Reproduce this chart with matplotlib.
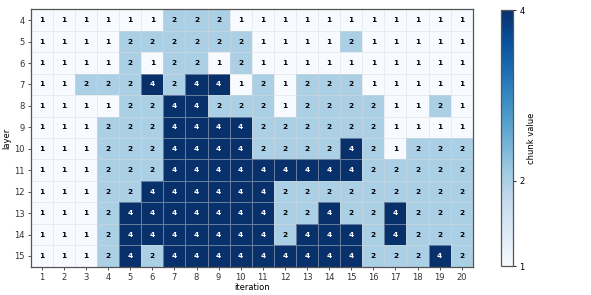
import numpy as np
import matplotlib.pyplot as plt
from matplotlib.colors import Normalize

layers = list(range(4, 16))
iterations = list(range(1, 21))

chunks = [
    [1, 1, 1, 1, 1, 1, 2, 2, 2, 1, 1, 1, 1, 1, 1, 1, 1, 1, 1, 1],
    [1, 1, 1, 1, 2, 2, 2, 2, 2, 2, 1, 1, 1, 1, 2, 1, 1, 1, 1, 1],
    [1, 1, 1, 1, 2, 1, 2, 2, 1, 2, 1, 1, 1, 1, 1, 1, 1, 1, 1, 1],
    [1, 1, 2, 2, 2, 4, 2, 4, 4, 1, 2, 1, 2, 2, 2, 1, 1, 1, 1, 1],
    [1, 1, 1, 1, 2, 2, 4, 4, 2, 2, 2, 1, 2, 2, 2, 2, 1, 1, 2, 1],
    [1, 1, 1, 2, 2, 2, 4, 4, 4, 4, 2, 2, 2, 2, 2, 2, 1, 1, 1, 1],
    [1, 1, 1, 2, 2, 2, 4, 4, 4, 4, 2, 2, 2, 2, 4, 2, 1, 2, 2, 2],
    [1, 1, 1, 2, 2, 2, 4, 4, 4, 4, 4, 4, 4, 4, 4, 2, 2, 2, 2, 2],
    [1, 1, 1, 2, 2, 4, 4, 4, 4, 4, 4, 2, 2, 2, 2, 2, 2, 2, 2, 2],
    [1, 1, 1, 2, 4, 4, 4, 4, 4, 4, 4, 2, 2, 4, 2, 2, 4, 2, 2, 2],
    [1, 1, 1, 2, 4, 4, 4, 4, 4, 4, 4, 2, 4, 4, 4, 2, 4, 2, 2, 2],
    [1, 1, 1, 2, 4, 2, 4, 4, 4, 4, 4, 4, 4, 4, 4, 2, 2, 2, 4, 2],
]

data = np.array(chunks)
norm = Normalize(vmin=1, vmax=4)

fig = plt.figure(figsize=(5.91, 2.95), dpi=100)
ax = fig.add_axes([0.052, 0.096, 0.748, 0.872])
cax = fig.add_axes([0.847, 0.098, 0.021, 0.868])

mesh = ax.pcolormesh(data, cmap='Blues', norm=norm,
                     edgecolors=(0.85, 0.85, 0.85, 0.45), linewidth=0.6)
ax.set_xlim(0, len(iterations))
ax.set_ylim(len(layers), 0)

# annotate every cell
for i in range(len(layers)):
    for j in range(len(iterations)):
        v = data[i, j]
        color = 'white' if v >= 3 else 'black'
        ax.text(j + 0.5, i + 0.5, str(v), ha='center', va='center',
                fontsize=5.3, fontweight='bold', color=color)

ax.set_xticks(np.arange(len(iterations)) + 0.5)
ax.set_xticklabels(iterations, fontsize=6)
ax.set_yticks(np.arange(len(layers)) + 0.5)
ax.set_yticklabels(layers, fontsize=6)
ax.tick_params(length=2.5, width=0.6, pad=2, colors='#333333')
ax.set_xlabel('iteration', fontsize=6, labelpad=1)
ax.set_ylabel('layer', fontsize=6, labelpad=2)
for s in ax.spines.values():
    s.set_color('#555555')
    s.set_linewidth(0.9)

cb = fig.colorbar(mesh, cax=cax, ticks=[1, 2, 4])
cb.ax.tick_params(labelsize=6, length=2.5, width=0.6, pad=2)
cb.outline.set_edgecolor('#555555')
cb.outline.set_linewidth(0.9)
cb.set_label('chunk value', fontsize=6, labelpad=2)

plt.savefig('out.png', dpi=100)
